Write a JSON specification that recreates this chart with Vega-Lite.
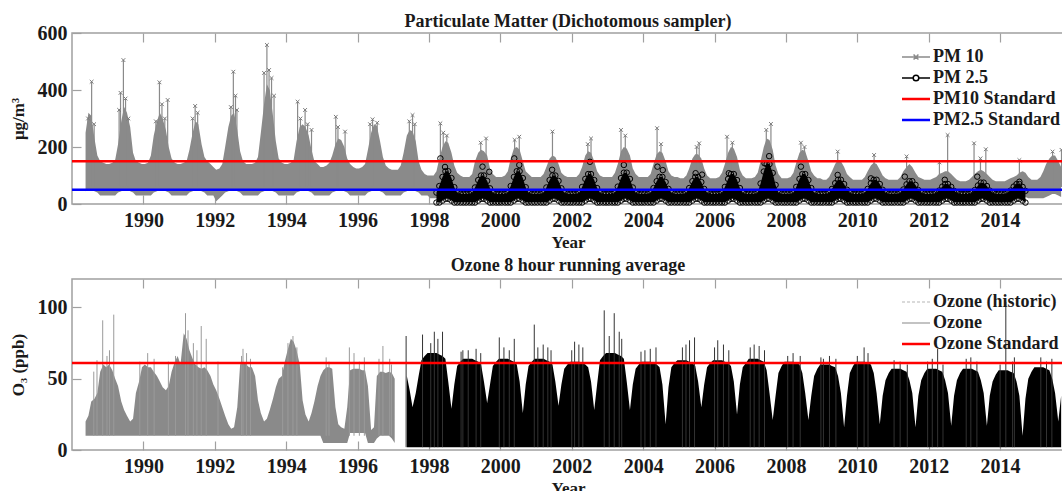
{
"$schema":"https://vega.github.io/schema/vega-lite/v6.json",
"padding":{"left":8,"right":0,"top":12,"bottom":0},
"background":"white",
"datasets":{
"m":[
{"t":1988.38,"p10l":45,"p10h":250,"o3l":10,"o3h":20},
{"t":1988.46,"p10l":50,"p10h":320,"o3l":10,"o3h":24},
{"t":1988.54,"p10l":50,"p10h":310,"o3l":10,"o3h":34},
{"t":1988.63,"p10l":45,"p10h":230,"o3l":10,"o3h":36},
{"t":1988.71,"p10l":40,"p10h":170,"o3l":10,"o3h":40},
{"t":1988.79,"p10l":30,"p10h":150,"o3l":10,"o3h":55},
{"t":1988.88,"p10l":30,"p10h":145,"o3l":10,"o3h":60},
{"t":1988.96,"p10l":30,"p10h":140,"o3l":10,"o3h":58},
{"t":1989.04,"p10l":30,"p10h":140,"o3l":10,"o3h":60},
{"t":1989.13,"p10l":30,"p10h":145,"o3l":10,"o3h":56},
{"t":1989.21,"p10l":30,"p10h":155,"o3l":10,"o3h":50},
{"t":1989.29,"p10l":40,"p10h":210,"o3l":10,"o3h":45},
{"t":1989.38,"p10l":45,"p10h":290,"o3l":10,"o3h":34},
{"t":1989.46,"p10l":50,"p10h":340,"o3l":10,"o3h":28},
{"t":1989.54,"p10l":50,"p10h":320,"o3l":10,"o3h":24},
{"t":1989.63,"p10l":45,"p10h":270,"o3l":10,"o3h":20},
{"t":1989.71,"p10l":40,"p10h":180,"o3l":10,"o3h":22},
{"t":1989.79,"p10l":30,"p10h":150,"o3l":10,"o3h":40},
{"t":1989.88,"p10l":30,"p10h":145,"o3l":10,"o3h":48},
{"t":1989.96,"p10l":30,"p10h":140,"o3l":10,"o3h":58},
{"t":1990.04,"p10l":30,"p10h":140,"o3l":10,"o3h":60},
{"t":1990.13,"p10l":30,"p10h":145,"o3l":10,"o3h":58},
{"t":1990.21,"p10l":30,"p10h":170,"o3l":10,"o3h":58},
{"t":1990.29,"p10l":40,"p10h":240,"o3l":10,"o3h":55},
{"t":1990.38,"p10l":45,"p10h":290,"o3l":10,"o3h":52},
{"t":1990.46,"p10l":50,"p10h":320,"o3l":10,"o3h":48},
{"t":1990.54,"p10l":50,"p10h":300,"o3l":10,"o3h":44},
{"t":1990.63,"p10l":45,"p10h":260,"o3l":10,"o3h":42},
{"t":1990.71,"p10l":40,"p10h":200,"o3l":10,"o3h":45},
{"t":1990.79,"p10l":30,"p10h":160,"o3l":10,"o3h":55},
{"t":1990.88,"p10l":30,"p10h":145,"o3l":10,"o3h":62},
{"t":1990.96,"p10l":30,"p10h":140,"o3l":10,"o3h":66},
{"t":1991.04,"p10l":30,"p10h":140,"o3l":10,"o3h":60},
{"t":1991.13,"p10l":30,"p10h":145,"o3l":10,"o3h":82},
{"t":1991.21,"p10l":30,"p10h":150,"o3l":10,"o3h":78},
{"t":1991.29,"p10l":40,"p10h":190,"o3l":10,"o3h":70},
{"t":1991.38,"p10l":45,"p10h":250,"o3l":10,"o3h":64},
{"t":1991.46,"p10l":50,"p10h":290,"o3l":10,"o3h":60},
{"t":1991.54,"p10l":50,"p10h":280,"o3l":10,"o3h":58},
{"t":1991.63,"p10l":45,"p10h":210,"o3l":10,"o3h":57},
{"t":1991.71,"p10l":40,"p10h":165,"o3l":10,"o3h":58},
{"t":1991.79,"p10l":30,"p10h":150,"o3l":10,"o3h":56},
{"t":1991.88,"p10l":30,"p10h":140,"o3l":10,"o3h":52},
{"t":1991.96,"p10l":30,"p10h":130,"o3l":10,"o3h":46},
{"t":1992.04,"p10l":10,"p10h":120,"o3l":10,"o3h":42},
{"t":1992.13,"p10l":20,"p10h":125,"o3l":10,"o3h":36},
{"t":1992.21,"p10l":30,"p10h":140,"o3l":10,"o3h":30},
{"t":1992.29,"p10l":40,"p10h":200,"o3l":10,"o3h":24},
{"t":1992.38,"p10l":45,"p10h":270,"o3l":10,"o3h":18},
{"t":1992.46,"p10l":50,"p10h":310,"o3l":10,"o3h":15},
{"t":1992.54,"p10l":50,"p10h":320,"o3l":10,"o3h":16},
{"t":1992.63,"p10l":45,"p10h":260,"o3l":10,"o3h":30},
{"t":1992.71,"p10l":40,"p10h":185,"o3l":10,"o3h":60},
{"t":1992.79,"p10l":30,"p10h":150,"o3l":10,"o3h":62},
{"t":1992.88,"p10l":30,"p10h":140,"o3l":10,"o3h":60},
{"t":1992.96,"p10l":30,"p10h":140,"o3l":10,"o3h":58},
{"t":1993.04,"p10l":30,"p10h":140,"o3l":10,"o3h":58},
{"t":1993.13,"p10l":30,"p10h":145,"o3l":10,"o3h":52},
{"t":1993.21,"p10l":30,"p10h":165,"o3l":10,"o3h":35},
{"t":1993.29,"p10l":40,"p10h":250,"o3l":10,"o3h":26},
{"t":1993.38,"p10l":45,"p10h":350,"o3l":10,"o3h":20},
{"t":1993.46,"p10l":50,"p10h":420,"o3l":10,"o3h":22},
{"t":1993.54,"p10l":50,"p10h":400,"o3l":10,"o3h":28},
{"t":1993.63,"p10l":45,"p10h":310,"o3l":10,"o3h":36},
{"t":1993.71,"p10l":40,"p10h":220,"o3l":10,"o3h":44},
{"t":1993.79,"p10l":30,"p10h":160,"o3l":10,"o3h":50},
{"t":1993.88,"p10l":30,"p10h":145,"o3l":10,"o3h":52},
{"t":1993.96,"p10l":30,"p10h":140,"o3l":10,"o3h":62},
{"t":1994.04,"p10l":30,"p10h":140,"o3l":10,"o3h":70},
{"t":1994.13,"p10l":30,"p10h":145,"o3l":10,"o3h":78},
{"t":1994.21,"p10l":30,"p10h":155,"o3l":10,"o3h":76},
{"t":1994.29,"p10l":40,"p10h":220,"o3l":10,"o3h":70},
{"t":1994.38,"p10l":45,"p10h":270,"o3l":10,"o3h":60},
{"t":1994.46,"p10l":50,"p10h":280,"o3l":10,"o3h":35},
{"t":1994.54,"p10l":50,"p10h":270,"o3l":10,"o3h":25},
{"t":1994.63,"p10l":45,"p10h":240,"o3l":10,"o3h":20},
{"t":1994.71,"p10l":40,"p10h":190,"o3l":10,"o3h":26},
{"t":1994.79,"p10l":30,"p10h":150,"o3l":10,"o3h":34},
{"t":1994.88,"p10l":30,"p10h":140,"o3l":10,"o3h":45},
{"t":1994.96,"p10l":30,"p10h":130,"o3l":10,"o3h":52},
{"t":1995.04,"p10l":30,"p10h":130,"o3l":5,"o3h":56},
{"t":1995.13,"p10l":30,"p10h":135,"o3l":5,"o3h":58},
{"t":1995.21,"p10l":30,"p10h":145,"o3l":5,"o3h":58},
{"t":1995.29,"p10l":40,"p10h":170,"o3l":5,"o3h":57},
{"t":1995.38,"p10l":45,"p10h":210,"o3l":5,"o3h":30},
{"t":1995.46,"p10l":50,"p10h":230,"o3l":5,"o3h":18},
{"t":1995.54,"p10l":50,"p10h":225,"o3l":5,"o3h":16},
{"t":1995.63,"p10l":45,"p10h":200,"o3l":5,"o3h":15},
{"t":1995.71,"p10l":40,"p10h":160,"o3l":5,"o3h":30},
{"t":1995.79,"p10l":30,"p10h":140,"o3l":12,"o3h":56},
{"t":1995.88,"p10l":30,"p10h":130,"o3l":12,"o3h":57},
{"t":1995.96,"p10l":30,"p10h":125,"o3l":12,"o3h":57},
{"t":1996.04,"p10l":30,"p10h":125,"o3l":12,"o3h":57},
{"t":1996.13,"p10l":30,"p10h":130,"o3l":12,"o3h":56},
{"t":1996.21,"p10l":30,"p10h":140,"o3l":12,"o3h":56},
{"t":1996.29,"p10l":40,"p10h":190,"o3l":5,"o3h":45},
{"t":1996.38,"p10l":45,"p10h":250,"o3l":5,"o3h":14},
{"t":1996.46,"p10l":50,"p10h":280,"o3l":5,"o3h":16},
{"t":1996.54,"p10l":50,"p10h":275,"o3l":8,"o3h":52},
{"t":1996.63,"p10l":45,"p10h":220,"o3l":10,"o3h":55},
{"t":1996.71,"p10l":40,"p10h":165,"o3l":10,"o3h":55},
{"t":1996.79,"p10l":30,"p10h":135,"o3l":10,"o3h":54},
{"t":1996.88,"p10l":30,"p10h":125,"o3l":10,"o3h":55},
{"t":1996.96,"p10l":30,"p10h":120,"o3l":8,"o3h":54},
{"t":1997.04,"p10l":30,"p10h":120,"o3l":5,"o3h":50},
{"t":1997.13,"p10l":30,"p10h":120},
{"t":1997.21,"p10l":30,"p10h":135},
{"t":1997.29,"p10l":40,"p10h":180},
{"t":1997.38,"p10l":45,"p10h":240,"o3l":2,"o3h":52},
{"t":1997.46,"p10l":50,"p10h":260,"o3l":2,"o3h":42},
{"t":1997.54,"p10l":50,"p10h":255,"o3l":2,"o3h":30},
{"t":1997.63,"p10l":45,"p10h":220,"o3l":2,"o3h":40},
{"t":1997.71,"p10l":40,"p10h":150,"o3l":2,"o3h":52},
{"t":1997.79,"p10l":30,"p10h":120,"o3l":2,"o3h":63},
{"t":1997.88,"p10l":30,"p10h":105,"o3l":2,"o3h":66},
{"t":1997.96,"p10l":30,"p10h":100,"o3l":2,"o3h":68},
{"t":1998.04,"p10l":20,"p10h":100,"o3l":2,"o3h":68},
{"t":1998.13,"p10l":20,"p10h":100,"o3l":2,"o3h":68},
{"t":1998.21,"p10l":20,"p10h":115,"p25l":5,"p25h":40,"o3l":2,"o3h":68},
{"t":1998.29,"p10l":25,"p10h":160,"p25l":5,"p25h":63,"o3l":2,"o3h":67},
{"t":1998.38,"p10l":30,"p10h":200,"p25l":12,"p25h":95,"o3l":2,"o3h":66},
{"t":1998.46,"p10l":35,"p10h":220,"p25l":18,"p25h":115,"o3l":2,"o3h":64},
{"t":1998.54,"p10l":35,"p10h":215,"p25l":18,"p25h":115,"o3l":2,"o3h":48},
{"t":1998.63,"p10l":30,"p10h":180,"p25l":12,"p25h":91,"o3l":2,"o3h":29},
{"t":1998.71,"p10l":25,"p10h":135,"p25l":5,"p25h":59,"o3l":2,"o3h":46},
{"t":1998.79,"p10l":20,"p10h":110,"p25l":5,"p25h":40,"o3l":2,"o3h":59},
{"t":1998.88,"p10l":20,"p10h":100,"p25l":5,"p25h":35,"o3l":2,"o3h":62},
{"t":1998.96,"p10l":20,"p10h":95,"p25l":5,"p25h":35,"o3l":2,"o3h":64},
{"t":1999.04,"p10l":20,"p10h":95,"p25l":5,"p25h":35,"o3l":2,"o3h":64},
{"t":1999.13,"p10l":20,"p10h":95,"p25l":5,"p25h":35,"o3l":2,"o3h":64},
{"t":1999.21,"p10l":20,"p10h":105,"p25l":5,"p25h":40,"o3l":2,"o3h":64},
{"t":1999.29,"p10l":25,"p10h":150,"p25l":5,"p25h":58,"o3l":2,"o3h":63},
{"t":1999.38,"p10l":30,"p10h":180,"p25l":12,"p25h":84,"o3l":2,"o3h":62},
{"t":1999.46,"p10l":35,"p10h":190,"p25l":18,"p25h":100,"o3l":2,"o3h":60},
{"t":1999.54,"p10l":35,"p10h":185,"p25l":18,"p25h":100,"o3l":2,"o3h":48},
{"t":1999.63,"p10l":30,"p10h":170,"p25l":12,"p25h":81,"o3l":2,"o3h":33},
{"t":1999.71,"p10l":25,"p10h":125,"p25l":5,"p25h":55,"o3l":2,"o3h":46},
{"t":1999.79,"p10l":20,"p10h":105,"p25l":5,"p25h":40,"o3l":2,"o3h":59},
{"t":1999.88,"p10l":20,"p10h":95,"p25l":5,"p25h":35,"o3l":2,"o3h":62},
{"t":1999.96,"p10l":20,"p10h":95,"p25l":5,"p25h":35,"o3l":2,"o3h":64},
{"t":2000.04,"p10l":20,"p10h":95,"p25l":5,"p25h":35,"o3l":2,"o3h":64},
{"t":2000.13,"p10l":20,"p10h":100,"p25l":5,"p25h":35,"o3l":2,"o3h":64},
{"t":2000.21,"p10l":20,"p10h":115,"p25l":5,"p25h":40,"o3l":2,"o3h":64},
{"t":2000.29,"p10l":25,"p10h":160,"p25l":5,"p25h":63,"o3l":2,"o3h":63},
{"t":2000.38,"p10l":30,"p10h":195,"p25l":12,"p25h":95,"o3l":2,"o3h":62},
{"t":2000.46,"p10l":35,"p10h":200,"p25l":18,"p25h":115,"o3l":2,"o3h":60},
{"t":2000.54,"p10l":35,"p10h":190,"p25l":18,"p25h":115,"o3l":2,"o3h":48},
{"t":2000.63,"p10l":30,"p10h":150,"p25l":12,"p25h":91,"o3l":2,"o3h":26},
{"t":2000.71,"p10l":25,"p10h":115,"p25l":5,"p25h":59,"o3l":2,"o3h":46},
{"t":2000.79,"p10l":20,"p10h":105,"p25l":5,"p25h":40,"o3l":2,"o3h":59},
{"t":2000.88,"p10l":20,"p10h":95,"p25l":5,"p25h":35,"o3l":2,"o3h":62},
{"t":2000.96,"p10l":20,"p10h":95,"p25l":5,"p25h":35,"o3l":2,"o3h":64},
{"t":2001.04,"p10l":20,"p10h":95,"p25l":5,"p25h":35,"o3l":2,"o3h":64},
{"t":2001.13,"p10l":20,"p10h":95,"p25l":5,"p25h":35,"o3l":2,"o3h":64},
{"t":2001.21,"p10l":20,"p10h":105,"p25l":5,"p25h":40,"o3l":2,"o3h":64},
{"t":2001.29,"p10l":25,"p10h":130,"p25l":5,"p25h":58,"o3l":2,"o3h":63},
{"t":2001.38,"p10l":30,"p10h":160,"p25l":12,"p25h":84,"o3l":2,"o3h":62},
{"t":2001.46,"p10l":35,"p10h":170,"p25l":18,"p25h":100,"o3l":2,"o3h":60},
{"t":2001.54,"p10l":35,"p10h":165,"p25l":18,"p25h":100,"o3l":2,"o3h":48},
{"t":2001.63,"p10l":30,"p10h":140,"p25l":12,"p25h":81,"o3l":2,"o3h":31},
{"t":2001.71,"p10l":25,"p10h":110,"p25l":5,"p25h":55,"o3l":2,"o3h":46},
{"t":2001.79,"p10l":20,"p10h":100,"p25l":5,"p25h":40,"o3l":2,"o3h":57},
{"t":2001.88,"p10l":20,"p10h":95,"p25l":5,"p25h":35,"o3l":2,"o3h":60},
{"t":2001.96,"p10l":20,"p10h":95,"p25l":5,"p25h":35,"o3l":2,"o3h":62},
{"t":2002.04,"p10l":20,"p10h":95,"p25l":5,"p25h":35,"o3l":2,"o3h":62},
{"t":2002.13,"p10l":20,"p10h":95,"p25l":5,"p25h":35,"o3l":2,"o3h":62},
{"t":2002.21,"p10l":20,"p10h":105,"p25l":5,"p25h":40,"o3l":2,"o3h":62},
{"t":2002.29,"p10l":25,"p10h":130,"p25l":5,"p25h":60,"o3l":2,"o3h":61},
{"t":2002.38,"p10l":30,"p10h":170,"p25l":12,"p25h":88,"o3l":2,"o3h":60},
{"t":2002.46,"p10l":35,"p10h":185,"p25l":18,"p25h":105,"o3l":2,"o3h":58},
{"t":2002.54,"p10l":35,"p10h":180,"p25l":18,"p25h":105,"o3l":2,"o3h":48},
{"t":2002.63,"p10l":30,"p10h":150,"p25l":12,"p25h":84,"o3l":2,"o3h":28},
{"t":2002.71,"p10l":25,"p10h":115,"p25l":5,"p25h":56,"o3l":2,"o3h":46},
{"t":2002.79,"p10l":20,"p10h":100,"p25l":5,"p25h":40,"o3l":2,"o3h":63},
{"t":2002.88,"p10l":20,"p10h":95,"p25l":5,"p25h":35,"o3l":2,"o3h":66},
{"t":2002.96,"p10l":20,"p10h":95,"p25l":5,"p25h":35,"o3l":2,"o3h":68},
{"t":2003.04,"p10l":20,"p10h":95,"p25l":5,"p25h":35,"o3l":2,"o3h":68},
{"t":2003.13,"p10l":20,"p10h":95,"p25l":5,"p25h":35,"o3l":2,"o3h":68},
{"t":2003.21,"p10l":20,"p10h":110,"p25l":5,"p25h":40,"o3l":2,"o3h":68},
{"t":2003.29,"p10l":25,"p10h":140,"p25l":5,"p25h":61,"o3l":2,"o3h":67},
{"t":2003.38,"p10l":30,"p10h":185,"p25l":12,"p25h":91,"o3l":2,"o3h":66},
{"t":2003.46,"p10l":35,"p10h":200,"p25l":18,"p25h":110,"o3l":2,"o3h":64},
{"t":2003.54,"p10l":35,"p10h":195,"p25l":18,"p25h":110,"o3l":2,"o3h":48},
{"t":2003.63,"p10l":30,"p10h":170,"p25l":12,"p25h":88,"o3l":2,"o3h":28},
{"t":2003.71,"p10l":25,"p10h":125,"p25l":5,"p25h":58,"o3l":2,"o3h":46},
{"t":2003.79,"p10l":20,"p10h":105,"p25l":5,"p25h":40,"o3l":2,"o3h":57},
{"t":2003.88,"p10l":20,"p10h":95,"p25l":5,"p25h":35,"o3l":2,"o3h":60},
{"t":2003.96,"p10l":20,"p10h":95,"p25l":5,"p25h":35,"o3l":2,"o3h":62},
{"t":2004.04,"p10l":20,"p10h":95,"p25l":5,"p25h":35,"o3l":2,"o3h":62},
{"t":2004.13,"p10l":20,"p10h":95,"p25l":5,"p25h":35,"o3l":2,"o3h":62},
{"t":2004.21,"p10l":20,"p10h":105,"p25l":5,"p25h":40,"o3l":2,"o3h":62},
{"t":2004.29,"p10l":25,"p10h":140,"p25l":5,"p25h":56,"o3l":2,"o3h":61},
{"t":2004.38,"p10l":30,"p10h":175,"p25l":12,"p25h":80,"o3l":2,"o3h":60},
{"t":2004.46,"p10l":35,"p10h":185,"p25l":18,"p25h":95,"o3l":2,"o3h":58},
{"t":2004.54,"p10l":35,"p10h":180,"p25l":18,"p25h":95,"o3l":2,"o3h":46},
{"t":2004.63,"p10l":30,"p10h":150,"p25l":12,"p25h":77,"o3l":2,"o3h":18},
{"t":2004.71,"p10l":25,"p10h":115,"p25l":5,"p25h":53,"o3l":2,"o3h":44},
{"t":2004.79,"p10l":20,"p10h":100,"p25l":5,"p25h":40,"o3l":2,"o3h":58},
{"t":2004.88,"p10l":20,"p10h":95,"p25l":5,"p25h":35,"o3l":2,"o3h":61},
{"t":2004.96,"p10l":20,"p10h":95,"p25l":5,"p25h":35,"o3l":2,"o3h":63},
{"t":2005.04,"p10l":20,"p10h":90,"p25l":5,"p25h":35,"o3l":2,"o3h":63},
{"t":2005.13,"p10l":20,"p10h":90,"p25l":5,"p25h":35,"o3l":2,"o3h":63},
{"t":2005.21,"p10l":20,"p10h":100,"p25l":5,"p25h":40,"o3l":2,"o3h":63},
{"t":2005.29,"p10l":25,"p10h":125,"p25l":5,"p25h":56,"o3l":2,"o3h":62},
{"t":2005.38,"p10l":30,"p10h":160,"p25l":12,"p25h":80,"o3l":2,"o3h":61},
{"t":2005.46,"p10l":35,"p10h":175,"p25l":18,"p25h":95,"o3l":2,"o3h":59},
{"t":2005.54,"p10l":35,"p10h":175,"p25l":18,"p25h":95,"o3l":2,"o3h":48},
{"t":2005.63,"p10l":30,"p10h":160,"p25l":12,"p25h":77,"o3l":2,"o3h":30},
{"t":2005.71,"p10l":25,"p10h":125,"p25l":5,"p25h":53,"o3l":2,"o3h":46},
{"t":2005.79,"p10l":20,"p10h":100,"p25l":5,"p25h":40,"o3l":2,"o3h":58},
{"t":2005.88,"p10l":20,"p10h":90,"p25l":5,"p25h":35,"o3l":2,"o3h":61},
{"t":2005.96,"p10l":20,"p10h":90,"p25l":5,"p25h":35,"o3l":2,"o3h":63},
{"t":2006.04,"p10l":20,"p10h":90,"p25l":5,"p25h":35,"o3l":2,"o3h":63},
{"t":2006.13,"p10l":20,"p10h":95,"p25l":5,"p25h":35,"o3l":2,"o3h":63},
{"t":2006.21,"p10l":20,"p10h":110,"p25l":5,"p25h":40,"o3l":2,"o3h":63},
{"t":2006.29,"p10l":25,"p10h":140,"p25l":5,"p25h":60,"o3l":2,"o3h":62},
{"t":2006.38,"p10l":30,"p10h":180,"p25l":12,"p25h":88,"o3l":2,"o3h":61},
{"t":2006.46,"p10l":35,"p10h":200,"p25l":18,"p25h":105,"o3l":2,"o3h":59},
{"t":2006.54,"p10l":35,"p10h":195,"p25l":18,"p25h":105,"o3l":2,"o3h":48},
{"t":2006.63,"p10l":30,"p10h":165,"p25l":12,"p25h":84,"o3l":2,"o3h":25},
{"t":2006.71,"p10l":25,"p10h":120,"p25l":5,"p25h":56,"o3l":2,"o3h":46},
{"t":2006.79,"p10l":20,"p10h":100,"p25l":5,"p25h":40,"o3l":2,"o3h":58},
{"t":2006.88,"p10l":20,"p10h":90,"p25l":5,"p25h":35,"o3l":2,"o3h":61},
{"t":2006.96,"p10l":20,"p10h":90,"p25l":5,"p25h":35,"o3l":2,"o3h":64},
{"t":2007.04,"p10l":20,"p10h":90,"p25l":5,"p25h":35,"o3l":2,"o3h":64},
{"t":2007.13,"p10l":20,"p10h":95,"p25l":5,"p25h":35,"o3l":2,"o3h":64},
{"t":2007.21,"p10l":20,"p10h":110,"p25l":5,"p25h":40,"o3l":2,"o3h":64},
{"t":2007.29,"p10l":25,"p10h":150,"p25l":5,"p25h":72,"o3l":2,"o3h":63},
{"t":2007.38,"p10l":30,"p10h":200,"p25l":12,"p25h":114,"o3l":2,"o3h":62},
{"t":2007.46,"p10l":35,"p10h":230,"p25l":18,"p25h":140,"o3l":2,"o3h":56},
{"t":2007.54,"p10l":35,"p10h":225,"p25l":18,"p25h":140,"o3l":2,"o3h":40},
{"t":2007.63,"p10l":30,"p10h":190,"p25l":12,"p25h":109,"o3l":2,"o3h":21},
{"t":2007.71,"p10l":25,"p10h":135,"p25l":5,"p25h":67,"o3l":2,"o3h":38},
{"t":2007.79,"p10l":20,"p10h":105,"p25l":5,"p25h":40,"o3l":2,"o3h":54},
{"t":2007.88,"p10l":20,"p10h":90,"p25l":5,"p25h":35,"o3l":2,"o3h":59},
{"t":2007.96,"p10l":20,"p10h":90,"p25l":5,"p25h":35,"o3l":2,"o3h":62},
{"t":2008.04,"p10l":20,"p10h":90,"p25l":5,"p25h":35,"o3l":2,"o3h":62},
{"t":2008.13,"p10l":20,"p10h":95,"p25l":5,"p25h":35,"o3l":2,"o3h":62},
{"t":2008.21,"p10l":20,"p10h":110,"p25l":5,"p25h":40,"o3l":2,"o3h":62},
{"t":2008.29,"p10l":25,"p10h":145,"p25l":5,"p25h":60,"o3l":2,"o3h":61},
{"t":2008.38,"p10l":30,"p10h":180,"p25l":12,"p25h":88,"o3l":2,"o3h":60},
{"t":2008.46,"p10l":35,"p10h":190,"p25l":18,"p25h":105,"o3l":2,"o3h":54},
{"t":2008.54,"p10l":35,"p10h":185,"p25l":18,"p25h":105,"o3l":2,"o3h":40},
{"t":2008.63,"p10l":30,"p10h":150,"p25l":12,"p25h":84,"o3l":2,"o3h":21},
{"t":2008.71,"p10l":25,"p10h":115,"p25l":5,"p25h":56,"o3l":2,"o3h":38},
{"t":2008.79,"p10l":20,"p10h":100,"p25l":5,"p25h":40,"o3l":2,"o3h":52},
{"t":2008.88,"p10l":20,"p10h":90,"p25l":5,"p25h":35,"o3l":2,"o3h":57},
{"t":2008.96,"p10l":20,"p10h":90,"p25l":5,"p25h":35,"o3l":2,"o3h":60},
{"t":2009.04,"p10l":20,"p10h":85,"p25l":5,"p25h":35,"o3l":2,"o3h":60},
{"t":2009.13,"p10l":20,"p10h":85,"p25l":5,"p25h":35,"o3l":2,"o3h":60},
{"t":2009.21,"p10l":20,"p10h":95,"p25l":5,"p25h":40,"o3l":2,"o3h":60},
{"t":2009.29,"p10l":25,"p10h":115,"p25l":5,"p25h":53,"o3l":2,"o3h":59},
{"t":2009.38,"p10l":30,"p10h":140,"p25l":12,"p25h":73,"o3l":2,"o3h":58},
{"t":2009.46,"p10l":35,"p10h":155,"p25l":18,"p25h":85,"o3l":2,"o3h":52},
{"t":2009.54,"p10l":35,"p10h":150,"p25l":18,"p25h":85,"o3l":2,"o3h":40},
{"t":2009.63,"p10l":30,"p10h":130,"p25l":12,"p25h":70,"o3l":2,"o3h":16},
{"t":2009.71,"p10l":25,"p10h":105,"p25l":5,"p25h":50,"o3l":2,"o3h":38},
{"t":2009.79,"p10l":20,"p10h":95,"p25l":5,"p25h":40,"o3l":2,"o3h":54},
{"t":2009.88,"p10l":20,"p10h":85,"p25l":5,"p25h":35,"o3l":2,"o3h":59},
{"t":2009.96,"p10l":20,"p10h":85,"p25l":5,"p25h":35,"o3l":2,"o3h":62},
{"t":2010.04,"p10l":20,"p10h":85,"p25l":5,"p25h":35,"o3l":2,"o3h":62},
{"t":2010.13,"p10l":20,"p10h":85,"p25l":5,"p25h":35,"o3l":2,"o3h":62},
{"t":2010.21,"p10l":20,"p10h":95,"p25l":5,"p25h":40,"o3l":2,"o3h":62},
{"t":2010.29,"p10l":25,"p10h":115,"p25l":5,"p25h":53,"o3l":2,"o3h":61},
{"t":2010.38,"p10l":30,"p10h":135,"p25l":12,"p25h":73,"o3l":2,"o3h":60},
{"t":2010.46,"p10l":35,"p10h":145,"p25l":18,"p25h":85,"o3l":2,"o3h":54},
{"t":2010.54,"p10l":35,"p10h":140,"p25l":18,"p25h":85,"o3l":2,"o3h":40},
{"t":2010.63,"p10l":30,"p10h":120,"p25l":12,"p25h":70,"o3l":2,"o3h":18},
{"t":2010.71,"p10l":25,"p10h":100,"p25l":5,"p25h":50,"o3l":2,"o3h":38},
{"t":2010.79,"p10l":20,"p10h":90,"p25l":5,"p25h":40,"o3l":2,"o3h":49},
{"t":2010.88,"p10l":20,"p10h":85,"p25l":5,"p25h":35,"o3l":2,"o3h":54},
{"t":2010.96,"p10l":20,"p10h":85,"p25l":5,"p25h":35,"o3l":2,"o3h":57},
{"t":2011.04,"p10l":20,"p10h":85,"p25l":5,"p25h":35,"o3l":2,"o3h":57},
{"t":2011.13,"p10l":20,"p10h":85,"p25l":5,"p25h":35,"o3l":2,"o3h":57},
{"t":2011.21,"p10l":20,"p10h":95,"p25l":5,"p25h":40,"o3l":2,"o3h":57},
{"t":2011.29,"p10l":25,"p10h":115,"p25l":5,"p25h":51,"o3l":2,"o3h":56},
{"t":2011.38,"p10l":30,"p10h":130,"p25l":12,"p25h":69,"o3l":2,"o3h":55},
{"t":2011.46,"p10l":35,"p10h":140,"p25l":18,"p25h":80,"o3l":2,"o3h":49},
{"t":2011.54,"p10l":35,"p10h":130,"p25l":18,"p25h":80,"o3l":2,"o3h":40},
{"t":2011.63,"p10l":30,"p10h":110,"p25l":12,"p25h":67,"o3l":2,"o3h":16},
{"t":2011.71,"p10l":25,"p10h":95,"p25l":5,"p25h":49,"o3l":2,"o3h":38},
{"t":2011.79,"p10l":20,"p10h":90,"p25l":5,"p25h":40,"o3l":2,"o3h":49},
{"t":2011.88,"p10l":20,"p10h":85,"p25l":5,"p25h":35,"o3l":2,"o3h":54},
{"t":2011.96,"p10l":20,"p10h":85,"p25l":5,"p25h":35,"o3l":2,"o3h":57},
{"t":2012.04,"p10l":20,"p10h":85,"p25l":5,"p25h":35,"o3l":2,"o3h":57},
{"t":2012.13,"p10l":20,"p10h":90,"p25l":5,"p25h":35,"o3l":2,"o3h":57},
{"t":2012.21,"p10l":20,"p10h":95,"p25l":5,"p25h":40,"o3l":2,"o3h":57},
{"t":2012.29,"p10l":25,"p10h":105,"p25l":5,"p25h":47,"o3l":2,"o3h":56},
{"t":2012.38,"p10l":30,"p10h":110,"p25l":12,"p25h":61,"o3l":2,"o3h":55},
{"t":2012.46,"p10l":35,"p10h":115,"p25l":18,"p25h":70,"o3l":2,"o3h":49},
{"t":2012.54,"p10l":35,"p10h":115,"p25l":18,"p25h":70,"o3l":2,"o3h":40},
{"t":2012.63,"p10l":30,"p10h":105,"p25l":12,"p25h":60,"o3l":2,"o3h":17},
{"t":2012.71,"p10l":25,"p10h":95,"p25l":5,"p25h":46,"o3l":2,"o3h":38},
{"t":2012.79,"p10l":20,"p10h":85,"p25l":5,"p25h":40,"o3l":2,"o3h":49},
{"t":2012.88,"p10l":20,"p10h":80,"p25l":5,"p25h":35,"o3l":2,"o3h":54},
{"t":2012.96,"p10l":20,"p10h":80,"p25l":5,"p25h":35,"o3l":2,"o3h":57},
{"t":2013.04,"p10l":20,"p10h":80,"p25l":5,"p25h":35,"o3l":2,"o3h":57},
{"t":2013.13,"p10l":20,"p10h":85,"p25l":5,"p25h":35,"o3l":2,"o3h":57},
{"t":2013.21,"p10l":20,"p10h":95,"p25l":5,"p25h":40,"o3l":2,"o3h":57},
{"t":2013.29,"p10l":25,"p10h":105,"p25l":5,"p25h":49,"o3l":2,"o3h":56},
{"t":2013.38,"p10l":30,"p10h":115,"p25l":12,"p25h":65,"o3l":2,"o3h":55},
{"t":2013.46,"p10l":35,"p10h":120,"p25l":18,"p25h":75,"o3l":2,"o3h":49},
{"t":2013.54,"p10l":35,"p10h":115,"p25l":18,"p25h":75,"o3l":2,"o3h":40},
{"t":2013.63,"p10l":30,"p10h":105,"p25l":12,"p25h":63,"o3l":2,"o3h":17},
{"t":2013.71,"p10l":25,"p10h":95,"p25l":5,"p25h":47,"o3l":2,"o3h":38},
{"t":2013.79,"p10l":20,"p10h":85,"p25l":5,"p25h":40,"o3l":2,"o3h":48},
{"t":2013.88,"p10l":20,"p10h":80,"p25l":5,"p25h":35,"o3l":2,"o3h":53},
{"t":2013.96,"p10l":20,"p10h":80,"p25l":5,"p25h":35,"o3l":2,"o3h":56},
{"t":2014.04,"p10l":20,"p10h":80,"p25l":5,"p25h":35,"o3l":2,"o3h":56},
{"t":2014.13,"p10l":20,"p10h":80,"p25l":5,"p25h":35,"o3l":2,"o3h":56},
{"t":2014.21,"p10l":20,"p10h":85,"p25l":5,"p25h":40,"o3l":2,"o3h":56},
{"t":2014.29,"p10l":25,"p10h":90,"p25l":5,"p25h":47,"o3l":2,"o3h":55},
{"t":2014.38,"p10l":30,"p10h":95,"p25l":12,"p25h":61,"o3l":2,"o3h":54},
{"t":2014.46,"p10l":35,"p10h":100,"p25l":18,"p25h":70,"o3l":2,"o3h":48},
{"t":2014.54,"p10l":35,"p10h":110,"p25l":18,"p25h":70,"o3l":2,"o3h":38},
{"t":2014.63,"p10l":30,"p10h":115,"p25l":12,"p25h":60,"o3l":2,"o3h":10},
{"t":2014.71,"p10l":25,"p10h":110,"p25l":5,"p25h":46,"o3l":2,"o3h":36},
{"t":2014.79,"p10l":20,"p10h":95,"o3l":2,"o3h":50},
{"t":2014.88,"p10l":20,"p10h":85,"o3l":2,"o3h":55},
{"t":2014.96,"p10l":20,"p10h":85,"o3l":2,"o3h":58},
{"t":2015.04,"p10l":20,"p10h":85,"o3l":2,"o3h":58},
{"t":2015.13,"p10l":20,"p10h":95,"o3l":2,"o3h":58},
{"t":2015.21,"p10l":20,"p10h":115,"o3l":2,"o3h":58},
{"t":2015.29,"p10l":25,"p10h":140,"o3l":2,"o3h":57},
{"t":2015.38,"p10l":30,"p10h":160,"o3l":2,"o3h":56},
{"t":2015.46,"p10l":35,"p10h":170,"o3l":2,"o3h":50},
{"t":2015.54,"p10l":35,"p10h":170,"o3l":2,"o3h":40},
{"t":2015.63,"p10l":30,"p10h":150,"o3l":2,"o3h":20},
{"t":2015.71,"p10l":25,"p10h":130,"o3l":2,"o3h":38}
],
"p10s":[
{"t":1988.45,"v":300},{"t":1988.55,"v":429},{"t":1988.62,"v":280},
{"t":1989.32,"v":330},{"t":1989.36,"v":390},{"t":1989.44,"v":505},{"t":1989.5,"v":370},{"t":1989.58,"v":300},
{"t":1990.35,"v":290},{"t":1990.45,"v":427},{"t":1990.52,"v":350},{"t":1990.6,"v":300},{"t":1990.68,"v":365},
{"t":1991.38,"v":300},{"t":1991.45,"v":344},{"t":1991.52,"v":320},
{"t":1992.45,"v":340},{"t":1992.52,"v":464},{"t":1992.58,"v":380},{"t":1992.62,"v":330},
{"t":1993.38,"v":460},{"t":1993.46,"v":558},{"t":1993.52,"v":470},{"t":1993.59,"v":442},{"t":1993.66,"v":380},
{"t":1994.32,"v":359},{"t":1994.4,"v":300},{"t":1994.53,"v":330},{"t":1994.6,"v":280},{"t":1994.71,"v":260},
{"t":1995.39,"v":306},{"t":1995.45,"v":270},{"t":1995.65,"v":254},
{"t":1996.35,"v":280},{"t":1996.42,"v":297},{"t":1996.55,"v":285},
{"t":1997.45,"v":290},{"t":1997.54,"v":312},{"t":1997.6,"v":280},
{"t":1998.32,"v":283},{"t":1998.4,"v":250},{"t":1998.5,"v":240},
{"t":1999.45,"v":215},{"t":1999.6,"v":230},
{"t":2000.4,"v":225},{"t":2000.53,"v":236},
{"t":2001.46,"v":254},
{"t":2002.45,"v":210},{"t":2002.54,"v":230},
{"t":2003.38,"v":260},{"t":2003.5,"v":240},
{"t":2004.39,"v":266},{"t":2004.5,"v":210},
{"t":2005.5,"v":200},{"t":2005.57,"v":213},
{"t":2006.35,"v":236},{"t":2006.5,"v":215},
{"t":2007.45,"v":260},{"t":2007.58,"v":281},
{"t":2008.42,"v":215},{"t":2008.52,"v":200},
{"t":2009.45,"v":184},{"t":2010.47,"v":172},{"t":2011.38,"v":167},
{"t":2012.3,"v":146},{"t":2012.53,"v":242},{"t":2013.27,"v":213},{"t":2013.45,"v":160},{"t":2013.6,"v":192},{"t":2014.54,"v":154},{"t":2015.47,"v":184},{"t":2015.72,"v":190}
],
"p25o":[
{"t":1998.32,"v":160},{"t":1998.45,"v":130},{"t":1999.5,"v":131},{"t":1999.69,"v":113},{"t":2000.39,"v":160},{"t":2000.53,"v":137},{"t":2001.45,"v":120},{"t":2002.51,"v":148},{"t":2003.46,"v":137},{"t":2004.4,"v":131},{"t":2004.55,"v":119},{"t":2005.47,"v":108},{"t":2005.65,"v":103},{"t":2006.4,"v":108},{"t":2007.4,"v":143},{"t":2007.53,"v":168},{"t":2008.42,"v":131},{"t":2009.45,"v":102},{"t":2010.38,"v":90},{"t":2011.33,"v":96},{"t":2012.45,"v":85},{"t":2013.36,"v":96},{"t":2014.54,"v":78}
],
"o3s":[
{"t":1988.61,"v":55},{"t":1988.7,"v":63},{"t":1988.86,"v":91},{"t":1988.98,"v":66},{"t":1989.05,"v":70},{"t":1989.17,"v":95},{"t":1989.9,"v":62},{"t":1990.12,"v":68},{"t":1990.3,"v":64},{"t":1990.7,"v":62},{"t":1990.9,"v":66},{"t":1991.18,"v":96},{"t":1991.25,"v":84},{"t":1991.4,"v":75},{"t":1991.5,"v":70},{"t":1991.62,"v":87},{"t":1991.76,"v":78},{"t":1992.09,"v":62},{"t":1992.75,"v":66},{"t":1992.79,"v":71},{"t":1992.89,"v":68},{"t":1993.0,"v":64},{"t":1993.9,"v":58},{"t":1994.05,"v":75},{"t":1994.19,"v":80},{"t":1994.3,"v":72},{"t":1995.12,"v":65},{"t":1995.2,"v":62},{"t":1995.77,"v":72},{"t":1995.9,"v":68},{"t":1996.05,"v":62},{"t":1996.19,"v":65},{"t":1996.6,"v":64},{"t":1996.71,"v":73},{"t":1996.9,"v":64},{"t":1996.95,"v":60},
{"t":1997.36,"v":80},{"t":1997.82,"v":81},{"t":1998.05,"v":75},{"t":1998.15,"v":83},{"t":1998.25,"v":78},{"t":1998.38,"v":83},{"t":1998.9,"v":69},{"t":1998.95,"v":70},{"t":1999.1,"v":70},{"t":1999.32,"v":71},{"t":1999.45,"v":68},{"t":1999.97,"v":79},{"t":2000.1,"v":72},{"t":2000.25,"v":70},{"t":2000.39,"v":78},{"t":2000.95,"v":88},{"t":2001.05,"v":72},{"t":2001.2,"v":74},{"t":2001.33,"v":72},{"t":2001.42,"v":70},{"t":2002.0,"v":70},{"t":2002.08,"v":76},{"t":2002.2,"v":74},{"t":2002.31,"v":72},{"t":2002.91,"v":98},{"t":2003.05,"v":80},{"t":2003.19,"v":96},{"t":2003.33,"v":83},{"t":2003.4,"v":78},{"t":2003.94,"v":69},{"t":2004.05,"v":70},{"t":2004.2,"v":71},{"t":2004.36,"v":72},{"t":2005.1,"v":72},{"t":2005.2,"v":74},{"t":2005.3,"v":77},{"t":2005.44,"v":79},{"t":2006.0,"v":72},{"t":2006.09,"v":77},{"t":2006.25,"v":74},{"t":2006.4,"v":70},{"t":2007.0,"v":72},{"t":2007.11,"v":74},{"t":2007.25,"v":73},{"t":2007.4,"v":70},{"t":2008.05,"v":66},{"t":2008.2,"v":68},{"t":2008.4,"v":66},{"t":2008.98,"v":65},{"t":2009.05,"v":64},{"t":2009.22,"v":66},{"t":2009.4,"v":64},{"t":2010.0,"v":66},{"t":2010.19,"v":72},{"t":2010.3,"v":68},{"t":2011.03,"v":63},{"t":2011.2,"v":62},{"t":2011.4,"v":60},{"t":2011.97,"v":62},{"t":2012.1,"v":64},{"t":2012.25,"v":71},{"t":2012.4,"v":60},{"t":2013.05,"v":64},{"t":2013.18,"v":65},{"t":2013.35,"v":62},{"t":2014.0,"v":60},{"t":2014.16,"v":104},{"t":2014.35,"v":62},{"t":2014.4,"v":65},{"t":2015.14,"v":65},{"t":2015.3,"v":62},{"t":2015.45,"v":64}
],
"std1":[{"s":"PM10 Standard","v":150},{"s":"PM2.5 Standard","v":50}],
"std2":[{"s":"Ozone Standard","v":61}]
},
"vconcat":[
{
"title":{"text":"Particulate Matter (Dichotomous sampler)","offset":-8},
"width":992,"height":171,
"layer":[
{"data":{"name":"m"},"transform":[{"filter":"isValid(datum.p10h)"}],
 "mark":{"type":"area","color":"#8a8a8a"},
 "encoding":{
  "x":{"field":"t","type":"quantitative","scale":{"domain":[1988,2015.79],"nice":false,"zero":false},
       "axis":{"orient":"bottom","values":[1990,1992,1994,1996,1998,2000,2002,2004,2006,2008,2010,2012,2014],"format":"d","title":"Year"}},
  "y":{"field":"p10h","type":"quantitative","scale":{"domain":[0,600],"nice":false},
       "axis":{"values":[0,200,400,600],"title":"μg/m³"}},
  "y2":{"field":"p10l"}}},
{"data":{"name":"p10s"},
 "mark":{"type":"rule","color":"#8a8a8a","strokeWidth":1.2},
 "encoding":{
  "x":{"field":"t","type":"quantitative","axis":{"orient":"top","values":[1990,1992,1994,1996,1998,2000,2002,2004,2006,2008,2010,2012,2014],"labels":false,"title":null}},
  "y":{"field":"v","type":"quantitative","axis":{"values":[0,200,400,600],"title":"μg/m³"}},
  "y2":{"datum":60}}},
{"data":{"name":"p10s"},
 "mark":{"type":"point","shape":"M-1,-1L1,1M-1,1L1,-1","size":14,"filled":false,"color":"#7a7a7a","strokeWidth":1,"opacity":1},
 "encoding":{
  "x":{"field":"t","type":"quantitative","axis":null},
  "y":{"field":"v","type":"quantitative","axis":{"values":[0,200,400,600],"title":"μg/m³"}}}},
{"data":{"name":"m"},"transform":[{"filter":"isValid(datum.p25h)"}],
 "mark":{"type":"area","color":"#000000"},
 "encoding":{
  "x":{"field":"t","type":"quantitative","axis":null},
  "y":{"field":"p25h","type":"quantitative","axis":{"values":[0,200,400,600],"title":"μg/m³"}},
  "y2":{"field":"p25l"}}},
{"data":{"name":"m"},"transform":[{"filter":"isValid(datum.p25h)"}],
 "mark":{"type":"point","shape":"circle","size":30,"filled":false,"color":"#000000","strokeWidth":1,"opacity":1},
 "encoding":{
  "x":{"field":"t","type":"quantitative","axis":null},
  "y":{"field":"p25h","type":"quantitative","axis":{"values":[0,200,400,600],"title":"μg/m³"}}}},
{"data":{"name":"m"},"transform":[{"filter":"isValid(datum.p25l)"}],
 "mark":{"type":"point","shape":"circle","size":30,"filled":false,"color":"#000000","strokeWidth":1,"opacity":1},
 "encoding":{
  "x":{"field":"t","type":"quantitative","axis":null},
  "y":{"field":"p25l","type":"quantitative","axis":{"values":[0,200,400,600],"title":"μg/m³"}}}},
{"data":{"name":"p25o"},
 "mark":{"type":"point","shape":"circle","size":30,"filled":false,"color":"#000000","strokeWidth":1,"opacity":1},
 "encoding":{
  "x":{"field":"t","type":"quantitative","axis":null},
  "y":{"field":"v","type":"quantitative","axis":{"values":[0,200,400,600],"title":"μg/m³"}}}},
{"data":{"name":"std1"},
 "mark":{"type":"rule","strokeWidth":2.5},
 "encoding":{
  "y":{"field":"v","type":"quantitative","axis":{"values":[0,200,400,600],"title":"μg/m³"}},
  "color":{"field":"s","type":"nominal",
   "scale":{"domain":["PM 10","PM 2.5","PM10 Standard","PM2.5 Standard"],"range":["#8a8a8a","#000000","#ff0000","#0000ff"]},
   "legend":{"orient":"none","legendX":835,"legendY":15,"title":null,
    "encode":{"symbols":{"update":{
     "shape":{"signal":"datum.value === 'PM 10' ? 'M-2,0H2M-0.35,-0.35L0.35,0.35M-0.35,0.35L0.35,-0.35' : (datum.value === 'PM 2.5' ? 'M-2,0H-0.4M0.4,0H2M-0.4,0A0.4,0.4 0 1,1 0.4,0A0.4,0.4 0 1,1 -0.4,0' : 'M-2,0H2')"},
     "strokeWidth":{"signal":"(datum.value === 'PM 10' || datum.value === 'PM 2.5') ? 1.5 : 2.5"},
     "fill":{"value":"transparent"},
     "opacity":{"value":1}}}}}}}}
],
"resolve":{"axis":{"x":"independent"}}
},
{
"title":{"text":"Ozone 8 hour running average","offset":3},
"width":992,"height":171,
"layer":[
{"data":{"name":"m"},"transform":[{"filter":"datum.t < 1997.2 && isValid(datum.o3h)"}],
 "mark":{"type":"area","color":"#8a8a8a"},
 "encoding":{
  "x":{"field":"t","type":"quantitative","scale":{"domain":[1988,2015.79],"nice":false,"zero":false},
       "axis":{"orient":"bottom","values":[1990,1992,1994,1996,1998,2000,2002,2004,2006,2008,2010,2012,2014],"format":"d","title":"Year"}},
  "y":{"field":"o3h","type":"quantitative","scale":{"domain":[0,120],"nice":false},
       "axis":{"values":[0,50,100],"title":"O₃ (ppb)"}},
  "y2":{"field":"o3l"}}},
{"data":{"name":"o3s"},"transform":[{"filter":"datum.t < 1997.2"}],
 "mark":{"type":"rule","color":"#9a9a9a","strokeWidth":1},
 "encoding":{
  "x":{"field":"t","type":"quantitative","axis":{"orient":"top","values":[1990,1992,1994,1996,1998,2000,2002,2004,2006,2008,2010,2012,2014],"labels":false,"title":null}},
  "y":{"field":"v","type":"quantitative","axis":{"values":[0,50,100],"title":"O₃ (ppb)"}},
  "y2":{"datum":10}}},
{"data":{"name":"m"},"transform":[{"filter":"datum.t > 1997.2 && isValid(datum.o3h)"}],
 "mark":{"type":"area","color":"#000000"},
 "encoding":{
  "x":{"field":"t","type":"quantitative","axis":null},
  "y":{"field":"o3h","type":"quantitative","axis":{"values":[0,50,100],"title":"O₃ (ppb)"}},
  "y2":{"field":"o3l"}}},
{"data":{"name":"o3s"},"transform":[{"filter":"datum.t > 1997.2"}],
 "mark":{"type":"rule","color":"#333333","strokeWidth":1},
 "encoding":{
  "x":{"field":"t","type":"quantitative","axis":null},
  "y":{"field":"v","type":"quantitative","axis":{"values":[0,50,100],"title":"O₃ (ppb)"}},
  "y2":{"datum":2}}},
{"data":{"name":"std2"},
 "mark":{"type":"rule","strokeWidth":2.5},
 "encoding":{
  "y":{"field":"v","type":"quantitative","axis":{"values":[0,50,100],"title":"O₃ (ppb)"}},
  "color":{"field":"s","type":"nominal",
   "scale":{"domain":["Ozone (historic)","Ozone","Ozone Standard"],"range":["#b5b5b5","#9a9a9a","#ff0000"]},
   "legend":{"orient":"none","legendX":835,"legendY":14,"title":null,
    "encode":{"symbols":{"update":{
     "shape":{"value":"M-2,0H2"},
     "strokeDash":{"signal":"datum.value === 'Ozone (historic)' ? [3,2] : []"},
     "strokeWidth":{"signal":"datum.value === 'Ozone Standard' ? 2.5 : 1.2"},
     "fill":{"value":"transparent"},
     "opacity":{"value":1}}}}}}}}
],
"resolve":{"axis":{"x":"independent"}}
}
],
"spacing":5,
"resolve":{"scale":{"color":"independent"},"legend":{"color":"independent"}},
"config":{
 "view":{"stroke":"#a0a0a0","strokeWidth":1.5},
 "font":"Liberation Serif",
 "axis":{"grid":false,"domain":false,"tickColor":"#a0a0a0","tickWidth":1.2,"tickSize":-9,
  "labelFont":"Liberation Serif","labelFontWeight":"bold","labelFontSize":20,"labelColor":"#1a1a1a","labelPadding":15,
  "titleFont":"Liberation Serif","titleFontWeight":"bold","titleFontSize":17,"titleColor":"#1a1a1a","titlePadding":4},
 "axisY":{"labelPadding":14,"titlePadding":10},
 "title":{"font":"Liberation Serif","fontSize":18,"fontWeight":"bold","color":"#1a1a1a","anchor":"middle"},
 "legend":{"symbolSize":196,"symbolType":"M-2,0H2","labelFont":"Liberation Serif","labelFontSize":18,"labelFontWeight":"bold","labelColor":"#1a1a1a","labelOffset":8,"rowPadding":3,"padding":0}
}
}
